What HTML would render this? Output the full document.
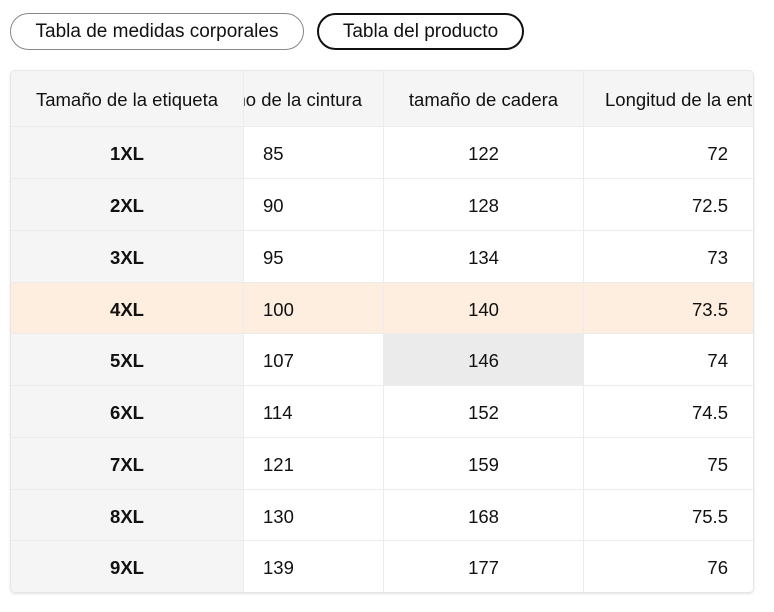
<!DOCTYPE html>
<html><head><meta charset="utf-8"><style>
body{margin:0;width:774px;height:612px;background:#fff;font-family:"Liberation Sans",Arial,sans-serif;color:#111;position:relative;overflow:hidden}
.btn{position:absolute;top:13px;height:37px;border-radius:19px;box-sizing:border-box;font-size:19px;line-height:35px;text-align:center}
.tbl{position:absolute;left:10px;top:70px;width:744px;height:523px;border:1px solid #e6e6e6;border-radius:5px;box-sizing:border-box;overflow:hidden;box-shadow:0 1px 2px rgba(0,0,0,.12)}
.c{position:absolute;box-sizing:border-box;font-size:18.5px;overflow:hidden;white-space:nowrap;border-right:1px solid #ececec;border-bottom:1px solid #ececec;display:flex;align-items:center;padding-top:3px}
</style></head><body>
<div class="btn" style="left:10px;width:294px;border:1px solid #888">Tabla de medidas corporales</div>
<div class="btn" style="left:317px;width:207px;border:2px solid #111;line-height:33px">Tabla del producto</div>
<div class="tbl" id="t"></div>
<script>
var t=document.getElementById('t');
var rows=[["1XL","85","122","72"],["2XL","90","128","72.5"],["3XL","95","134","73"],["4XL","100","140","73.5"],["5XL","107","146","74"],["6XL","114","152","74.5"],["7XL","121","159","75"],["8XL","130","168","75.5"],["9XL","139","177","76"]];
var ys=[0,56,108,160,212,263,315,367,419,470,522];
function cell(x,y,w,h,txt,bg,align,pad,bold){var d=document.createElement('div');d.className='c';d.style.cssText+='left:'+x+'px;top:'+y+'px;width:'+w+'px;height:'+h+'px;background:'+bg+';justify-content:'+align+';'+pad+(bold?'font-weight:bold;':'');d.textContent=txt;t.appendChild(d);}
cell(0,0,233,56,"Tamaño de la etiqueta","#f5f5f5","center","");
cell(233,0,140,56,"Tamaño de la cintura","#f5f5f5","flex-end","padding-right:21px;");
cell(373,0,200,56,"tamaño de cadera","#f5f5f5","center","");
cell(573,0,172,56,"Longitud de la entrepierna","#f5f5f5","flex-start","padding-left:21px;");
for(var i=0;i<9;i++){var y=ys[i+1],h=ys[i+2]-y;var hl=i==3;var r=rows[i];
cell(0,y,233,h,r[0],hl?"#fdeee0":"#f5f5f5","center","",true);
cell(233,y,140,h,r[1],hl?"#fdeee0":"#fff","flex-start","padding-left:19px;");
cell(373,y,200,h,r[2],hl?"#fdeee0":(i==4?"#ebebeb":"#fff"),"center","");
cell(573,y,172,h,r[3],hl?"#fdeee0":"#fff","flex-end","padding-right:27px;");}
</script>
</body></html>
